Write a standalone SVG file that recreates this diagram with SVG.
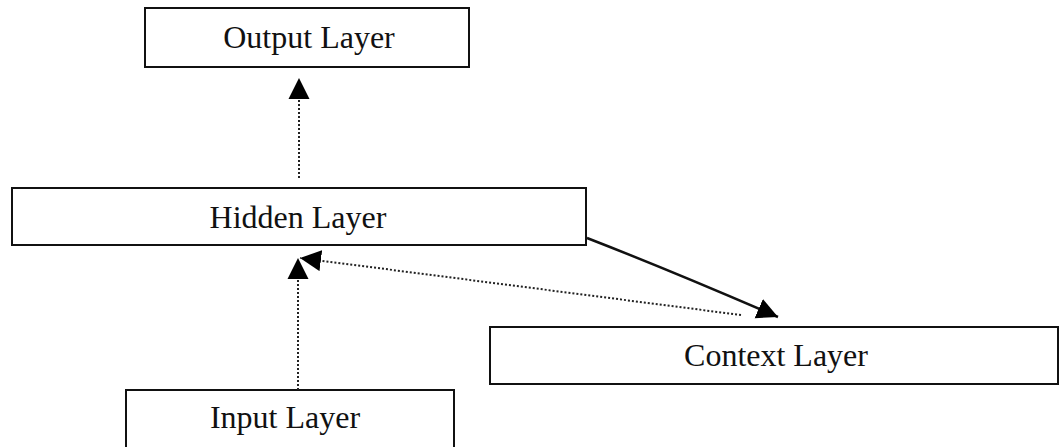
<svg xmlns="http://www.w3.org/2000/svg" width="1060" height="447" viewBox="0 0 1060 447">
  <style>
    .box { fill: #ffffff; stroke: #111111; stroke-width: 2; }
    .label { font-family: "Liberation Serif", "Times New Roman", serif; font-size: 32px; fill: #111111; text-anchor: middle; }
    .dotted { fill: none; stroke: #222222; stroke-width: 2; stroke-dasharray: 2 2; }
    .solid { fill: none; stroke: #111111; stroke-width: 2.5; }
  </style>
  <defs>
    <marker id="head" markerUnits="userSpaceOnUse" markerWidth="24" markerHeight="24" refX="21" refY="11" orient="auto">
      <path d="M0,0.5 L21,11 L0,21.5 Z" fill="#000000"/>
    </marker>
  </defs>
  <rect width="1060" height="447" fill="#ffffff"/>

  <g id="output-layer">
    <rect class="box" x="145" y="8" width="324" height="59"/>
    <text class="label" x="309" y="48">Output Layer</text>
  </g>

  <g id="hidden-layer">
    <rect class="box" x="12" y="188" width="574" height="57"/>
    <text class="label" x="298" y="228">Hidden Layer</text>
  </g>

  <g id="context-layer">
    <rect class="box" x="490" y="327" width="568" height="57"/>
    <text class="label" x="776" y="366">Context Layer</text>
  </g>

  <g id="input-layer">
    <rect class="box" x="126" y="390" width="328" height="60"/>
    <text class="label" x="285" y="428">Input Layer</text>
  </g>

  <g id="connectors">
    <!-- hidden to output -->
    <path class="dotted" d="M299,178 L299,78" marker-end="url(#head)"/>
    <!-- input to hidden -->
    <path class="dotted" d="M298,390 L298,258" marker-end="url(#head)"/>
    <!-- context back to hidden -->
    <path class="dotted" d="M741,315 L300,258" marker-end="url(#head)"/>
    <!-- hidden to context -->
    <path class="solid" d="M587,238 Q672,271 778,317" marker-end="url(#head)"/>
  </g>
</svg>
